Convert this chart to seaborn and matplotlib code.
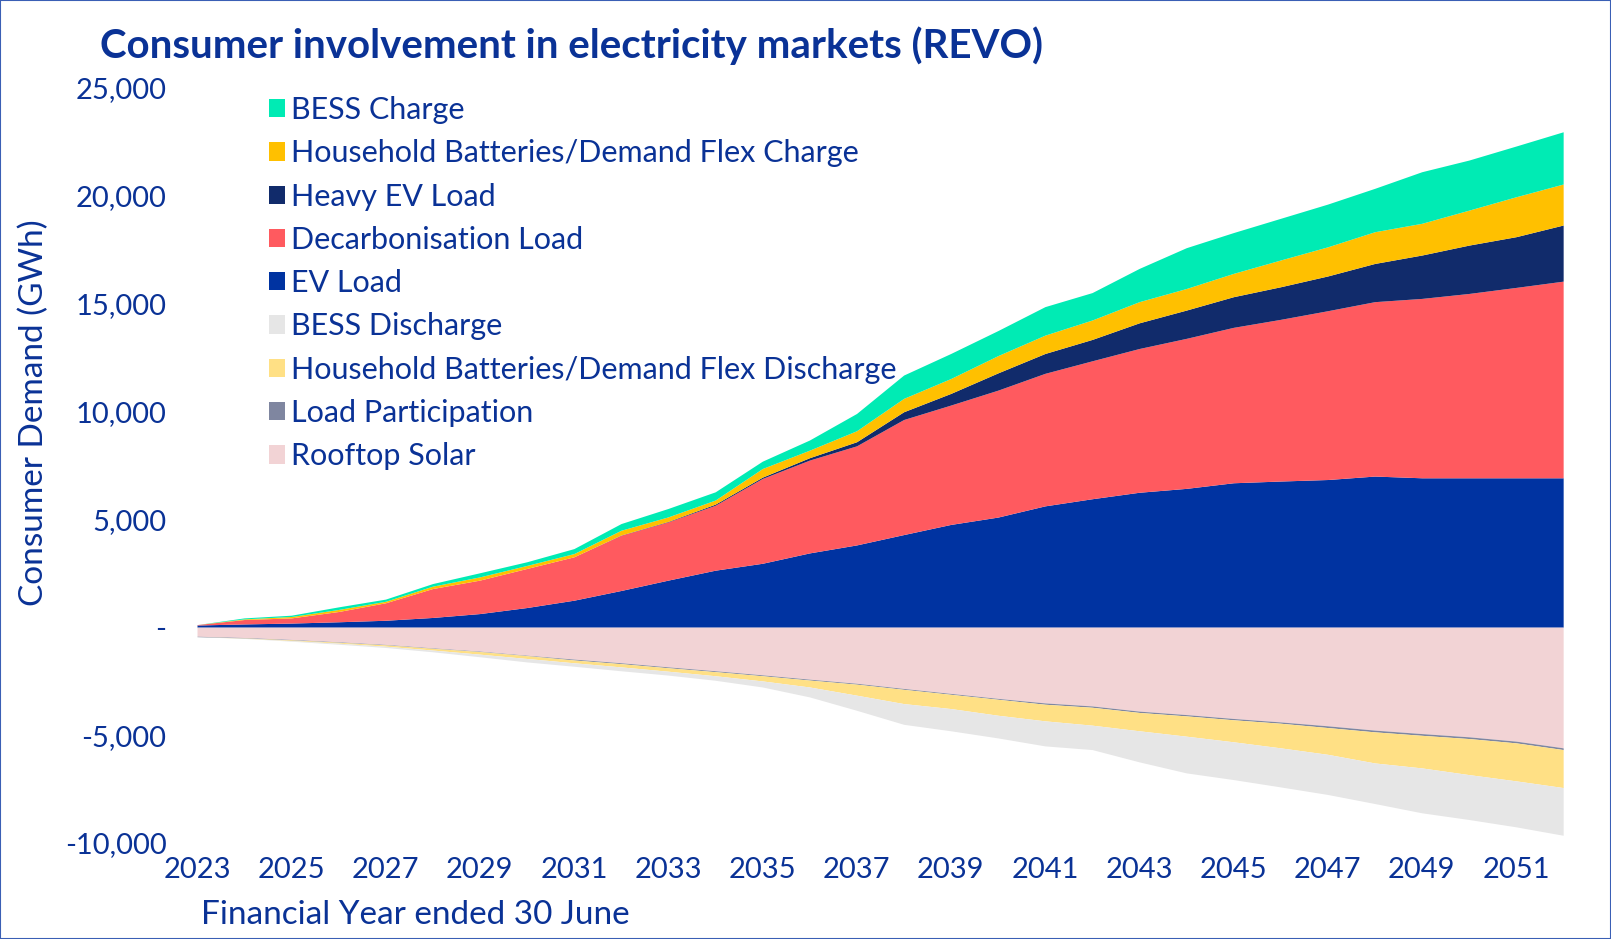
import numpy as np
import pandas as pd
import matplotlib
matplotlib.use("Agg")
import matplotlib.pyplot as plt
from matplotlib.patches import Patch, Rectangle
import seaborn as sns

# Data (GWh)
years = list(range(2023, 2053))

ev_load = [100, 150, 190, 250, 320, 450, 630, 910, 1250, 1700, 2180, 2640, 2960, 3440, 3810,
           4290, 4760, 5100, 5620, 5950, 6250, 6430, 6690, 6770, 6840, 7000, 6920, 6920, 6920, 6920]
decarb_load = [20, 205, 240, 475, 810, 1340, 1550, 1810, 2010, 2560, 2700, 3010, 3930, 4300, 4590,
               5330, 5530, 5880, 6140, 6390, 6660, 6950, 7200, 7490, 7820, 8080, 8310, 8540, 8820, 9110]
heavy_ev = [0, 0, 0, 0, 0, 0, 0, 0, 0, 10, 20, 50, 60, 110, 190,
            360, 540, 800, 920, 990, 1190, 1310, 1420, 1510, 1610, 1770, 2010, 2240, 2350, 2600]
hh_charge = [0, 30, 65, 95, 70, 110, 150, 140, 150, 220, 210, 190, 400, 350, 510,
             620, 690, 800, 850, 900, 980, 1000, 1080, 1240, 1350, 1470, 1470, 1620, 1850, 1900]
bess_charge = [0, 45, 60, 120, 100, 120, 190, 170, 230, 310, 390, 380, 340, 470, 800,
               1080, 1160, 1160, 1320, 1270, 1540, 1890, 1890, 1930, 1980, 2010, 2390, 2320, 2350, 2420]

rooftop_solar = [-420, -480, -570, -680, -800, -960, -1110, -1300, -1480, -1650, -1840, -2020, -2210, -2410, -2600,
                 -2840, -3070, -3300, -3510, -3650, -3890, -4050, -4230, -4390, -4570, -4770, -4930, -5080, -5280, -5590]
load_participation = [-20, -20, -20, -20, -20, -20, -20, -20, -40, -40, -40, -40, -40, -40, -40,
                      -40, -40, -40, -60, -60, -60, -60, -60, -60, -80, -80, -80, -80, -80, -80]
hh_discharge = [0, -10, -30, -40, -60, -80, -120, -130, -130, -150, -160, -190, -240, -320, -510,
                -660, -660, -740, -770, -830, -850, -940, -1020, -1140, -1240, -1440, -1510, -1670, -1760, -1760]
bess_discharge = [0, -10, -30, -50, -60, -80, -120, -160, -160, -180, -180, -210, -280, -460, -700,
                  -960, -1030, -1050, -1160, -1130, -1440, -1700, -1750, -1810, -1860, -1880, -2080, -2080, -2130, -2210]

df = pd.DataFrame({
    "year": years,
    "EV Load": ev_load,
    "Decarbonisation Load": decarb_load,
    "Heavy EV Load": heavy_ev,
    "Household Batteries/Demand Flex Charge": hh_charge,
    "BESS Charge": bess_charge,
    "Rooftop Solar": rooftop_solar,
    "Load Participation": load_participation,
    "Household Batteries/Demand Flex Discharge": hh_discharge,
    "BESS Discharge": bess_discharge,
})

pos_cols = ["EV Load", "Decarbonisation Load", "Heavy EV Load",
            "Household Batteries/Demand Flex Charge", "BESS Charge"]
neg_cols = ["Rooftop Solar", "Load Participation",
            "Household Batteries/Demand Flex Discharge", "BESS Discharge"]

colors = {
    "EV Load": "#0033A1",
    "Decarbonisation Load": "#FF5A5F",
    "Heavy EV Load": "#112B6B",
    "Household Batteries/Demand Flex Charge": "#FFC000",
    "BESS Charge": "#00EBB4",
    "Rooftop Solar": "#F2D3D5",
    "Load Participation": "#7F86A0",
    "Household Batteries/Demand Flex Discharge": "#FFE085",
    "BESS Discharge": "#E6E6E6",
}

text_col = "#0A3296"

sns.set_theme(style="white")
plt.rcParams["font.family"] = ["Lato", "DejaVu Sans"]

fig = plt.figure(figsize=(16.11, 9.39), dpi=100)
ax = fig.add_axes([0.1223, 0.1022, 0.848, 0.8046])

ax.stackplot(df["year"], *[df[c] for c in pos_cols],
             colors=[colors[c] for c in pos_cols], linewidth=0)
ax.stackplot(df["year"], *[df[c] for c in neg_cols],
             colors=[colors[c] for c in neg_cols], linewidth=0)

ax.set_xlim(2023, 2052)
ax.set_ylim(-10000, 25000)
ax.set_xticks(range(2023, 2052, 2))
ax.set_yticks(range(-10000, 25001, 5000))
ax.set_yticklabels(["-10,000", "-5,000", "-", "5,000", "10,000", "15,000", "20,000", "25,000"])
ax.tick_params(axis="both", labelsize=21, colors=text_col, length=0)
ax.tick_params(axis="x", pad=10)
ax.tick_params(axis="y", pad=22)
for s in ax.spines.values():
    s.set_visible(False)
ax.grid(False)

fig.text(0.021, 0.56, "Consumer Demand (GWh)", fontsize=24, color=text_col,
         rotation=90, ha="center", va="center")
fig.text(0.1245, 0.026, "Financial Year ended 30 June", fontsize=24, color=text_col,
         ha="left", va="center")
fig.text(0.062, 0.951, "Consumer involvement in electricity markets (REVO)",
         fontsize=29, fontweight="bold", color=text_col, ha="left", va="center")

legend_order = ["BESS Charge", "Household Batteries/Demand Flex Charge", "Heavy EV Load",
                "Decarbonisation Load", "EV Load", "BESS Discharge",
                "Household Batteries/Demand Flex Discharge", "Load Participation", "Rooftop Solar"]
handles = [Patch(facecolor=colors[c], edgecolor="none", label=c) for c in legend_order]
leg = ax.legend(handles=handles, loc="upper left", bbox_to_anchor=(0.0435, 1.005),
                frameon=False, fontsize=22, handlelength=0.55, handleheight=0.55,
                handletextpad=0.18, labelspacing=0.5, borderaxespad=0)
for t in leg.get_texts():
    t.set_color(text_col)

fig.patches.append(Rectangle((0, 0), 1, 1, transform=fig.transFigure, fill=False,
                             edgecolor="#3A5FB5", linewidth=1.5))

fig.savefig("out.png", dpi=100)
